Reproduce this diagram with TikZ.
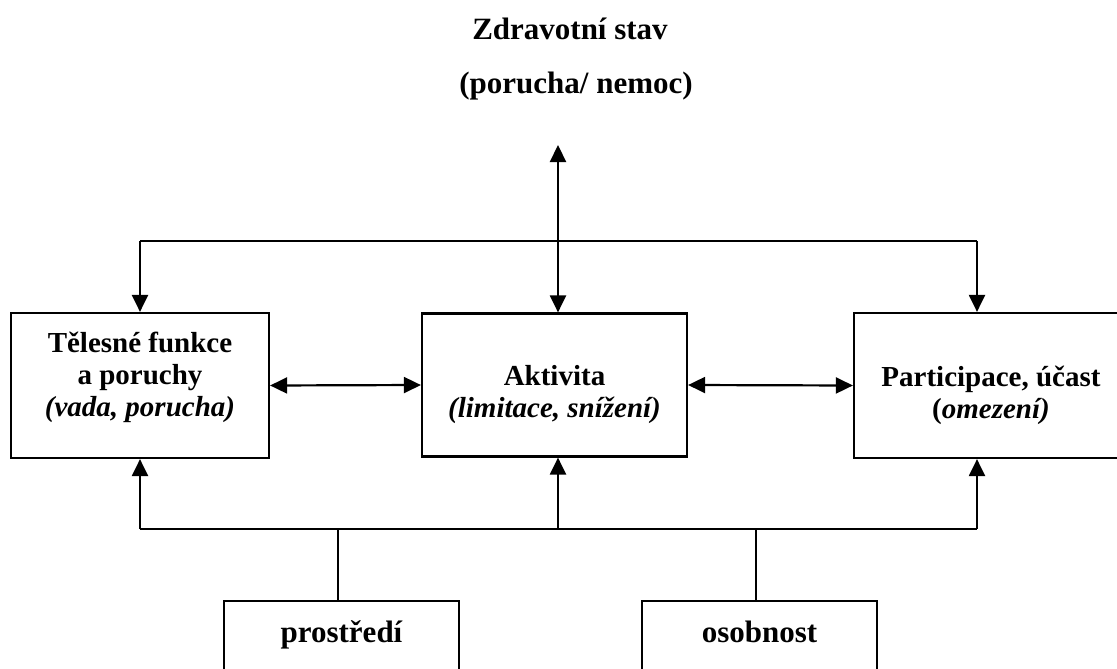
\documentclass[tikz,border=0pt]{standalone}
\usepackage{fontspec}
\setmainfont{Liberation Serif}
\usetikzlibrary{arrows.meta}
\begin{document}
\begin{tikzpicture}[x=1pt,y=-1pt,line width=2.2pt,>={Triangle[length=17pt,width=16pt]},
  box/.style={draw,inner sep=0pt,align=center,font=\fontsize{29}{32}\selectfont\bfseries},
  lowbox/.style={draw,inner sep=0pt,minimum width=235pt,text height=41pt,text depth=45pt,anchor=base,font=\fontsize{31}{36}\selectfont\bfseries},
  title/.style={anchor=base,font=\fontsize{31}{36}\selectfont\bfseries}]
\useasboundingbox[fill=white](0,0)rectangle(1117,669);
\node[title](stav)at(570,40){Zdravotní stav};
\node[title](nemoc)at(576,93){(porucha/ nemoc)};
\node[box,minimum width=258pt,minimum height=145pt](funkce)at(140,385.5){Tělesné funkce\\a poruchy\\\textit{(vada, porucha)}\rule[-22pt]{0pt}{0pt}};
\node[box,minimum width=265pt,minimum height=143pt](aktivita)at(554.5,385){\rule{0pt}{40pt}Aktivita\\\textit{(limitace, snížení)}};
\node[box,minimum width=274pt,minimum height=145pt](participace)at(991,385.5){\rule{0pt}{40pt}Participace, účast\\(\textit{omezení)}};
\node[lowbox](prostredi)at(341.5,642){prostředí};
\node[lowbox](osobnost)at(759.5,642){osobnost};
\coordinate(top)at(558,145);
\coordinate(tl)at(140,241);\coordinate(tr)at(977,241);
\coordinate(bl)at(140,529);\coordinate(bm)at(558,529);\coordinate(br)at(977,529);
\coordinate(pm)at(338,529);\coordinate(om)at(756,529);
\draw[<->](top)--(top|-aktivita.north);
\draw(tl)--(tr);
\draw[->](tl)--(funkce.north);
\draw[->](tr)--(tr|-participace.north);
\draw[<->](funkce.east)--(aktivita.west);
\draw[<->](aktivita.east)--(participace.west);
\draw(bl)--(br);
\draw[->](bl)--(funkce.south);
\draw[->](bm)--(bm|-aktivita.south);
\draw[->](br)--(br|-participace.south);
\draw(pm)--(pm|-prostredi.north);
\draw(om)--(om|-osobnost.north);
\end{tikzpicture}
\end{document}
